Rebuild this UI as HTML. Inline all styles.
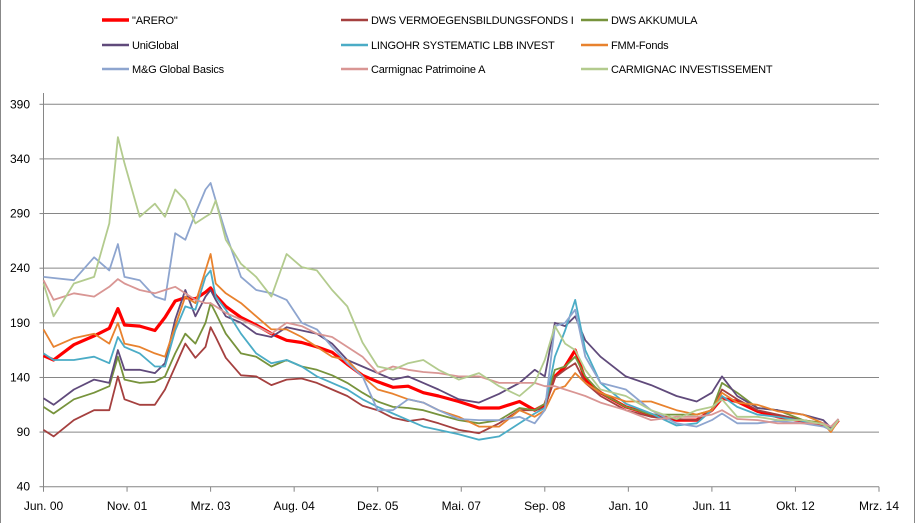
<!DOCTYPE html>
<html><head><meta charset="utf-8">
<style>
html,body{margin:0;padding:0;background:#fff;}
#wrap{position:relative;width:913px;height:523px;border-left:1px solid #888;border-right:1px solid #888;overflow:hidden;}
svg text{font-family:"Liberation Sans",sans-serif;font-size:12px;fill:#000;}
#legend text{font-size:11px;letter-spacing:-0.2px;}
</style></head>
<body>
<div id="wrap">
<svg id="chart" width="913" height="523">
  <g id="legend"></g>
  <g id="grid"></g>
  <g id="axes"></g>
  <g id="series"></g>
</svg>
</div>
<script>
// months since Jun. 2000
const months = [0,2,6,10,13,14.7,16,19,22,24,26,28,30,32,33,34,36,39,42,45,48,51,54,57,60,63,66,69,72,75,78,82,86,90,94,97,99,101,103,105,107,110,115,120,125,129,132,134,137,141,145,150,154,155.5,157];
const seriesNames = ['"ARERO"','DWS VERMOEGENSBILDUNGSFONDS  I','DWS AKKUMULA','UniGlobal','LINGOHR SYSTEMATIC  LBB INVEST','FMM-Fonds','M&G Global Basics','Carmignac Patrimoine  A','CARMIGNAC  INVESTISSEMENT'];
const arero = [160,156,170,178,185,203,188,187,183,195,210,213,212,218,222,215,205,195,188,180,174,172,168,163,152,142,136,131,132,126,123,118,112,112,118,110,115,141,150,165,138,126,113,106,101,101,110,121,118,109,104,100,97,92,101];
const dwsV = [92,86,101,110,110,141,120,115,115,129,150,171,158,168,186,177,158,142,141,133,138,139,135,129,123,114,110,103,100,102,98,92,89,98,110,110,112,140,147,153,135,123,110,104,102,101,110,129,120,110,106,101,98,94,101];
const akkumula = [113,107,120,126,132,159,138,135,136,141,162,180,171,190,208,199,180,162,159,150,156,150,147,142,135,126,118,113,112,110,106,101,98,101,112,110,116,147,150,159,141,126,113,106,106,106,110,135,126,112,110,101,98,94,101];
const uniGlobal = [121,115,129,138,135,165,147,147,144,153,193,220,196,214,220,211,196,190,180,177,186,183,180,171,156,150,144,138,141,135,129,120,117,125,135,147,141,190,187,196,174,159,141,133,123,118,126,141,123,112,110,106,101,94,102];
const lingohr = [162,156,156,159,153,177,168,162,150,150,183,205,202,232,238,214,202,180,162,153,156,150,141,135,129,120,113,107,101,95,92,88,83,86,98,107,112,159,183,211,165,135,116,107,96,98,110,123,113,106,104,100,97,92,101];
const fmm = [184,168,176,180,171,190,171,168,162,159,187,214,208,238,253,226,217,208,196,184,184,177,168,159,156,141,129,125,120,117,110,104,95,95,110,104,110,129,132,144,135,126,118,118,110,106,110,126,117,115,109,106,98,90,101];
const mgBasics = [232,231,229,250,238,262,232,229,214,211,272,266,290,312,318,302,272,232,220,217,211,190,184,168,153,141,110,110,120,117,110,102,101,101,104,98,110,187,190,202,159,135,129,110,98,95,101,107,98,98,100,98,95,92,101];
const carmPatr = [229,211,217,214,223,230,226,220,217,220,223,217,211,208,208,205,199,193,187,180,190,187,180,177,168,159,144,150,147,145,144,141,141,135,135,135,132,132,129,126,123,117,110,101,104,104,106,110,102,101,98,98,98,95,102];
const carmInv = [226,196,226,232,281,360,336,287,299,287,312,302,281,287,290,302,266,244,232,214,253,241,238,220,205,172,150,147,153,156,147,138,144,132,123,135,156,187,171,165,147,129,123,110,102,110,113,120,104,104,101,101,97,92,101];
const yTicks = [40,90,140,190,240,290,340,390];
const xTickLabels = ['Jun. 00','Nov. 01','Mrz. 03','Aug. 04','Dez. 05','Mai. 07','Sep. 08','Jan. 10','Jun. 11','Okt. 12','Mrz. 14'];
const xTickMonths = [0,16.5,33,49.5,66,82.5,99,115.5,132,148.5,165];

const NS='http://www.w3.org/2000/svg';
const X0=42.5, X1=878, Y0=486.7, Y1=104.3;
function xs(m){return X0+(m/165)*(X1-X0);}
function ys(v){return Y0-(v-40)/(390-40)*(Y0-Y1);}
function mk(tag,attrs,parent){const e=document.createElementNS(NS,tag);for(const k in attrs)e.setAttribute(k,attrs[k]);parent.appendChild(e);return e;}

const grid=document.getElementById('grid'), axes=document.getElementById('axes'), ser=document.getElementById('series'), leg=document.getElementById('legend');
yTicks.forEach(v=>{
  const y=ys(v);
  if(v>40){
    const g=mk('line',{x1:X0,x2:X1,y1:y,y2:y,stroke:'#868686','stroke-width':1},grid);
    
    
  }
  const t=mk('line',{x1:X0-4,x2:X0,y1:y,y2:y,stroke:'#868686'},axes);
  
  
  const l=mk('text',{x:29,y:y+4,'text-anchor':'end'},axes);
  l.textContent=v;
  
  
});
const ya=mk('line',{x1:X0,x2:X0,y1:93,y2:Y0,stroke:'#868686'},axes);


const xa=mk('line',{x1:X0,x2:X1,y1:Y0,y2:Y0,stroke:'#868686'},axes);


xTickLabels.forEach((lab,i)=>{
  const x=xs(xTickMonths[i]);
  const t=mk('line',{x1:x,x2:x,y1:Y0,y2:Y0+5,stroke:'#868686'},axes);
  
  
  const l=mk('text',{x:x,y:510,'text-anchor':'middle'},axes);
  l.textContent=lab;
  
  
});

const allSeries=[arero,dwsV,akkumula,uniGlobal,lingohr,fmm,mgBasics,carmPatr,carmInv];
const colors=['#FF0000','#A5403F','#77933C','#604A7B','#4BACC6','#E8822E','#8EA5CF','#D99694','#B3CB8E'];
const widths=[3.2,1.8,1.8,1.8,1.8,1.8,1.8,1.8,1.8];
allSeries.forEach((vals,si)=>{
  const pts=vals.map((v,i)=>xs(months[i]).toFixed(1)+','+ys(v).toFixed(1)).join(' ');
  const p=mk('polyline',{points:pts,fill:'none',stroke:colors[si],'stroke-width':widths[si],'stroke-linejoin':'round'},ser);
  
  
});

const legX=[101,340,580], legY=[20,45,69];
seriesNames.forEach((n,i)=>{
  const col=i%3,row=Math.floor(i/3);
  const x=legX[col], y=legY[row];
  const l=mk('line',{x1:x,x2:x+27,y1:y,y2:y,stroke:colors[i],'stroke-width':i===0?3.5:2.5},leg);
  
  
  const t=mk('text',{x:x+30,y:y+4,'xml:space':'preserve'},leg);
  t.textContent=n;
  
  
});
</script>
</body></html>
